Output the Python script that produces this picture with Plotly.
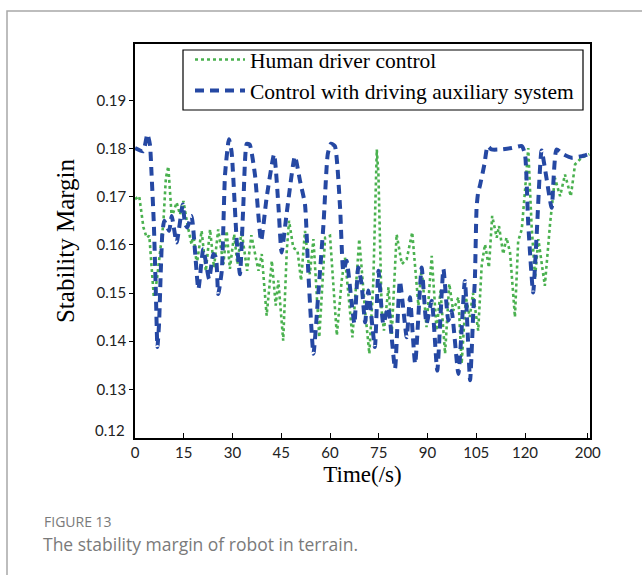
import plotly.graph_objects as go

# ---- data (x in axis units; last tick labelled "200" as in the source figure) ----
x_tickvals = [0, 15, 30, 45, 60, 75, 90, 105, 120, 139.3]
x_ticktext = ["0", "15", "30", "45", "60", "75", "90", "105", "120", "200"]
y_tickvals = [0.12, 0.13, 0.14, 0.15, 0.16, 0.17, 0.18, 0.19]
y_ticktext = ["0.12", "0.13", "0.14", "0.15", "0.16", "0.17", "0.18", "0.19"]

human_t = [0.0, 1.3, 2.6, 3.6, 4.4, 5.8, 6.7, 7.7, 8.7, 9.5, 10.25, 11.3, 12.8, 13.85, 14.9,
           16.1, 17.4, 17.95, 19.0, 20.5, 21.8, 23.1, 24.3, 25.6, 27.2, 28.2, 29.2, 30.5, 31.5,
           32.8, 34.5, 35.8, 38.0, 39.0, 40.5, 42.1, 43.3, 44.1, 45.6, 46.7, 47.4, 48.7, 50.0,
           51.1, 52.3, 53.8, 54.9, 56.7, 58.5, 60.0, 62.1, 63.6, 64.6, 66.9, 69.0, 70.8, 72.1,
           73.3, 74.2, 74.4, 74.9, 75.9, 76.6, 78.0, 79.0, 80.5, 82.1, 83.6, 85.3, 87.2, 88.2,
           89.7, 91.3, 92.8, 94.0, 95.4, 96.7, 97.9, 99.5, 100.5, 101.8, 103.0, 104.0, 104.6,
           105.6, 106.7, 107.7, 108.9, 109.9, 111.3, 112.0, 113.3, 114.3, 115.4, 116.9, 117.9,
           119.0, 120.0, 121.0, 122.0, 123.1, 124.1, 126.1, 127.7, 129.2, 130.8, 132.3, 134.1,
           135.4, 137.4, 139.8]
human_v = [0.1695, 0.1701, 0.1636, 0.1615, 0.1619, 0.1491, 0.1526, 0.1588, 0.1643, 0.1739, 0.1763,
           0.1657, 0.1688, 0.1663, 0.1691, 0.1643, 0.1601, 0.1622, 0.1560, 0.1629, 0.1546, 0.1632,
           0.1553, 0.1632, 0.1560, 0.1629, 0.1550, 0.1622, 0.1560, 0.1629, 0.1546, 0.1620, 0.1546,
           0.1581, 0.1453, 0.1567, 0.1474, 0.1526, 0.1401, 0.1588, 0.1650, 0.1594, 0.1588, 0.1526,
           0.1629, 0.1539, 0.1612, 0.1408, 0.1615, 0.1619, 0.1412, 0.1526, 0.1574, 0.1408, 0.1612,
           0.1463, 0.1374, 0.1519, 0.1760, 0.1798, 0.1746, 0.1463, 0.1422, 0.1512, 0.1415, 0.1622,
           0.1560, 0.1570, 0.1626, 0.1474, 0.1553, 0.1429, 0.1577, 0.1422, 0.1505, 0.1374, 0.1519,
           0.1463, 0.1491, 0.1353, 0.1491, 0.1450, 0.1500, 0.1470, 0.1422, 0.1560, 0.1601, 0.1553,
           0.1660, 0.1615, 0.1639, 0.1581, 0.1615, 0.1584, 0.1450, 0.1608, 0.1632, 0.1712, 0.1801,
           0.1643, 0.1532, 0.1612, 0.1515, 0.1643, 0.1739, 0.1701, 0.1746, 0.1701, 0.1767, 0.1781,
           0.1788]

assist_t = [0.0, 2.5, 3.8, 4.6, 5.1, 5.8, 6.4, 6.9, 7.4, 7.9, 8.4, 9.0, 10.5, 11.3, 12.8, 14.7,
            15.4, 16.1, 17.4, 19.5, 21.0, 22.8, 24.1, 24.9, 25.6, 26.7, 27.7, 28.9, 29.7, 31.3,
            32.3, 33.3, 34.4, 35.3, 36.9, 38.8, 40.5, 42.8, 44.1, 45.1, 46.7, 49.2, 50.8, 52.3,
            53.3, 54.9, 56.4, 58.0, 59.3, 60.3, 61.5, 63.1, 64.1, 65.1, 66.7, 67.5, 68.7, 69.7,
            70.8, 71.8, 73.8, 74.9, 76.4, 77.9, 80.0, 81.5, 83.6, 84.6, 86.2, 88.2, 89.7, 91.3,
            93.0, 94.9, 96.4, 97.4, 99.5, 101.5, 103.1, 104.1, 104.6, 105.1, 105.6, 106.1, 107.5,
            108.5, 109.7, 112.3, 115.9, 119.0, 120.0, 121.0, 122.5, 123.6, 125.1, 126.6, 128.2,
            129.7, 131.8, 134.3, 137.4, 139.8]
assist_v = [0.1801, 0.1794, 0.1830, 0.1808, 0.1746, 0.1643, 0.1505, 0.1388, 0.1436, 0.1539, 0.1622,
            0.1650, 0.1629, 0.1660, 0.1605, 0.1684, 0.1643, 0.1636, 0.1660, 0.1508, 0.1591, 0.1529,
            0.1581, 0.1574, 0.1498, 0.1546, 0.1746, 0.1819, 0.1794, 0.1608, 0.1539, 0.1677, 0.1810,
            0.1808, 0.1746, 0.1608, 0.1698, 0.1788, 0.1684, 0.1584, 0.1667, 0.1784, 0.1732, 0.1684,
            0.1546, 0.1374, 0.1498, 0.1643, 0.1788, 0.1810, 0.1805, 0.1677, 0.1546, 0.1567, 0.1477,
            0.1436, 0.1553, 0.1519, 0.1439, 0.1505, 0.1388, 0.1546, 0.1436, 0.1470, 0.1343, 0.1525,
            0.1408, 0.1491, 0.1353, 0.1553, 0.1436, 0.1484, 0.1339, 0.1550, 0.1443, 0.1463, 0.1332,
            0.1525, 0.1319, 0.1463, 0.1532, 0.1677, 0.1710, 0.1722, 0.1767, 0.1805, 0.1798, 0.1798,
            0.1801, 0.1805, 0.1788, 0.1643, 0.1501, 0.1622, 0.1796, 0.1739, 0.1677, 0.1798, 0.1788,
            0.1781, 0.1784, 0.1789]

GREEN = "#4AB14F"
BLUE = "#2548A3"

fig = go.Figure()
fig.add_trace(go.Scatter(
    x=human_t, y=human_v, mode="lines", name="Human driver control",
    line=dict(color=GREEN, width=2.6, dash="dot"),
))
fig.add_trace(go.Scatter(
    x=assist_t, y=assist_v, mode="lines", name="Control with driving auxiliary system",
    line=dict(color=BLUE, width=4, dash="9px,6px", shape="spline", smoothing=0.5),
))

L, R, T, B = 135, 52, 44, 137
W, H = 642, 575
pw, ph = W - L - R, H - T - B

def px(xp):
    return (xp - L) / pw

def py(yp):
    return (H - B - yp) / ph

TICKFONT = dict(family="Lato", size=15, color="#222")

fig.update_layout(
    width=W, height=H,
    margin=dict(l=L, r=R, t=T, b=B, autoexpand=False),
    paper_bgcolor="white", plot_bgcolor="white",
    showlegend=True,
    legend=dict(
        x=px(190), y=py(39), xanchor="left", yanchor="top",
        borderwidth=0, bgcolor="rgba(0,0,0,0)",
        font=dict(family="Liberation Serif", size=21.5, color="black"),
        itemwidth=50, tracegroupgap=0,
    ),
    xaxis=dict(
        range=[0, 140], tickvals=x_tickvals, ticktext=x_ticktext,
        showgrid=False, zeroline=False,
        showline=True, linecolor="black", linewidth=1.5, mirror=True,
        ticks="inside", ticklen=5, tickcolor="black",
        tickfont=TICKFONT,
        title=dict(text="Time(/s)", font=dict(family="Liberation Serif", size=23, color="black"), standoff=6),
    ),
    yaxis=dict(
        range=[0.1199, 0.2017], tickvals=y_tickvals[1:], ticktext=y_ticktext[1:],
        showgrid=False, zeroline=False,
        showline=True, linecolor="black", linewidth=1.5, mirror=True,
        ticks="outside", ticklen=4, tickcolor="black",
        tickfont=TICKFONT,
        title=dict(text="Stability Margin", font=dict(family="Liberation Serif", size=25, color="black")),
    ),
    shapes=[
        dict(type="rect", xref="paper", yref="paper",
             x0=px(7), y0=py(700), x1=px(800), y1=py(11),
             line=dict(color="#a8a8a8", width=1.5), fillcolor="rgba(0,0,0,0)", layer="below"),
        dict(type="rect", xref="paper", yref="paper",
             x0=px(183), y0=py(110), x1=px(583), y1=py(50),
             line=dict(color="black", width=1.2), fillcolor="rgba(0,0,0,0)", layer="above"),
    ],
    annotations=[
        # lowest y tick label sits slightly above the axis corner in the source
        dict(text=y_ticktext[0], xref="paper", yref="y", x=px(127), y=y_tickvals[0],
             xanchor="right", yanchor="middle", yshift=8, showarrow=False, font=TICKFONT),
        dict(text="FIGURE 13", xref="paper", yref="paper", x=px(42), y=py(521),
             xanchor="left", yanchor="middle", showarrow=False,
             font=dict(family="Open Sans", size=14, color="#7a7a7a")),
        dict(text="The stability margin of robot in terrain.", xref="paper", yref="paper",
             x=px(41), y=py(544), xanchor="left", yanchor="middle", showarrow=False,
             font=dict(family="Open Sans", size=17.5, color="#7a7a7a")),
    ],
)

fig.write_html("out.html")
